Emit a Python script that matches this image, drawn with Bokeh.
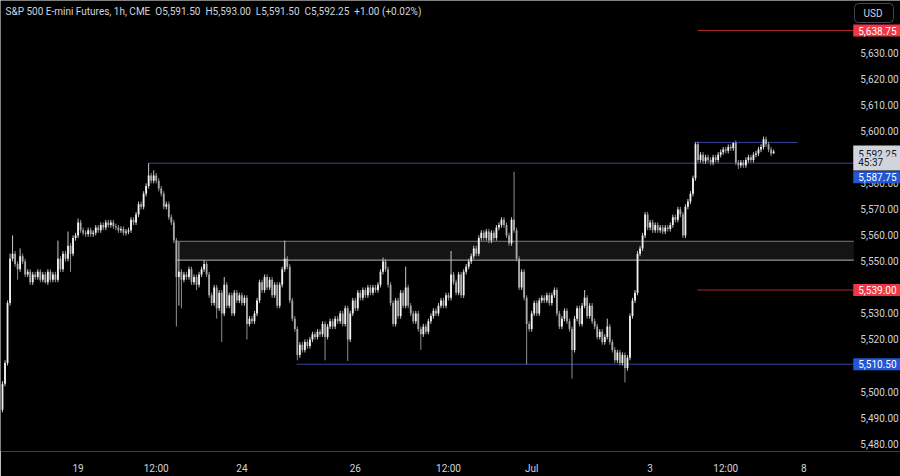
from bokeh.plotting import figure
from bokeh.models import Range1d, FixedTicker, Label, ColumnDataSource
from bokeh.embed import file_html
from bokeh.resources import INLINE
from bokeh.core.properties import value

# ---------------- data ----------------
NB = "\u00a0\u00a0"
title_parts = ["S&P 500 E-mini Futures, 1h, CME", "O5,591.50", "H5,593.00",
               "L5,591.50", "C5,592.25", "+1.00 (+0.02%)"]

first_open = 5493.0
closes = [
    5503, 5511, 5534, 5551, 5553, 5549, 5547, 5552, 5550, 5545,
    5546, 5542, 5545, 5544, 5546, 5543, 5545, 5542, 5546, 5543,
    5545, 5543, 5551, 5547, 5553, 5551, 5556, 5553, 5559, 5560,
    5565, 5562, 5561, 5560.5, 5562, 5560.5, 5561, 5563, 5562, 5564,
    5563, 5565, 5564, 5565, 5563.5, 5563, 5562, 5562.5, 5561, 5561.5,
    5562, 5566, 5565, 5568, 5572, 5571, 5576, 5579, 5583, 5581,
    5583, 5581, 5578, 5576, 5571, 5572, 5567, 5565, 5558, 5544,
    5546, 5543, 5545, 5544, 5547, 5542, 5544, 5541, 5545, 5547,
    5549, 5545, 5537, 5534, 5540, 5532, 5538, 5530, 5541, 5533,
    5537, 5530, 5538, 5535, 5537, 5534, 5536, 5526, 5528, 5527,
    5530, 5535, 5542, 5539, 5544, 5540, 5543, 5537, 5541, 5533,
    5541, 5547, 5551, 5548, 5535, 5528, 5524, 5514, 5518, 5516,
    5519, 5517.5, 5520, 5522, 5521, 5523, 5522, 5526, 5521, 5525,
    5527, 5525, 5528, 5527, 5530, 5526, 5532, 5520, 5530, 5535,
    5532, 5538, 5536, 5539, 5537, 5540, 5538, 5540, 5539, 5541,
    5546, 5550, 5547, 5541, 5534, 5526, 5535, 5529, 5538, 5533,
    5540, 5533, 5530, 5527, 5530, 5524, 5522, 5525, 5523, 5527,
    5529, 5531, 5530, 5533, 5535, 5533, 5537, 5536, 5545, 5542,
    5538, 5545, 5537, 5546, 5548, 5550, 5552, 5555, 5553, 5559,
    5561, 5559, 5561.5, 5558, 5561, 5559, 5563, 5564, 5566, 5564,
    5560, 5557, 5566, 5562, 5551, 5540, 5546, 5536, 5526, 5524,
    5530, 5534, 5530, 5535, 5536, 5535, 5537, 5534, 5537, 5539,
    5530, 5525, 5528, 5531, 5527, 5524, 5516, 5528, 5532, 5526,
    5533, 5536, 5529, 5533, 5527, 5525, 5521, 5523, 5519, 5521,
    5525, 5519, 5516, 5512, 5515, 5511, 5514, 5509, 5513, 5529,
    5535, 5538, 5553, 5555, 5560, 5568, 5563, 5565, 5562, 5564,
    5562, 5563, 5561.5, 5563, 5562.5, 5564, 5567, 5566, 5570, 5568,
    5560, 5571, 5573, 5576, 5582, 5595, 5589, 5591, 5588.5, 5590,
    5589, 5588, 5590, 5589, 5591, 5592, 5593, 5592.5, 5594, 5593.5,
    5595.5, 5588, 5587, 5588, 5587, 5589, 5590, 5589, 5591, 5591.5,
    5593, 5594, 5597, 5595, 5593, 5591.5, 5592.25,
]
# long wicks that stand out in the picture (bar index -> price)
notable_highs = {0: 5504, 3: 5553, 4: 5560, 7: 5555, 22: 5558, 26: 5561.5,
                 30: 5566.5, 58: 5587.75, 60: 5585, 70: 5557.5, 80: 5550.5,
                 88: 5544, 112: 5558, 151: 5551.5, 160: 5548, 178: 5554,
                 203: 5584.5, 219: 5540, 231: 5539, 240: 5528, 255: 5569,
                 275: 5595.75, 290: 5595.75, 302: 5598, 306: 5593}
notable_lows = {0: 5492, 6: 5543, 11: 5541, 17: 5541.5, 27: 5546, 69: 5525,
                70: 5533, 71: 5532, 77: 5539, 85: 5528, 87: 5519, 97: 5520,
                117: 5512, 128: 5512, 137: 5511.75, 166: 5516, 208: 5510.5,
                226: 5505, 247: 5503.5, 292: 5585.5, 306: 5591.5}
typical_wick = 1.0

# horizontal levels: (price, first bar, last bar or None = up to the price scale)
blue_levels = [(5587.75, 58, None), (5510.50, 116.7, None), (5595.75, 274.5, 315.5)]
red_levels = [(5638.75, 275.8, None), (5539.00, 275.8, None)]
zone_bottom, zone_top, zone_start = 5550.50, 5557.75, 68.7

price_ticks = [5480, 5490, 5500, 5520, 5530, 5550, 5560, 5570, 5580,
               5600, 5610, 5620, 5630]
time_tick_bars = [30, 61, 95, 140, 177, 210, 257, 287, 318]
time_tick_labels = ["19", "12:00", "24", "26", "12:00", "Jul", "3", "12:00", "8"]

last_price, countdown_text = 5592.25, "45:37"

# ---------------- derived OHLC ----------------
n = len(closes)
idx = list(range(n))
opens = [first_open] + closes[:-1]
highs = [notable_highs.get(i, max(opens[i], closes[i]) + typical_wick) for i in idx]
lows = [notable_lows.get(i, min(opens[i], closes[i]) - typical_wick) for i in idx]
up = [closes[i] >= opens[i] for i in idx]
src = ColumnDataSource(dict(
    i=idx, h=highs, l=lows,
    top=[max(opens[i], closes[i]) for i in idx],
    bottom=[min(opens[i], closes[i]) for i in idx],
    body=["#f2f2f2" if u else "#aaaaaa" for u in up],
    wick=["#c8c8c8" if u else "#909090" for u in up],
))

FONT = "Roboto"
TXT = "#d1d4dc"

# layout in bar units: the chart pane ends where the price scale begins
x_start, x_end = -0.79, 356.35
y_bottom, y_top = 5476.95, 5650.29
tag_x = 337.6
tick_text_x = 340.4

p = figure(width=900, height=476, output_backend="svg", toolbar_location=None,
           x_range=Range1d(x_start, x_end), y_range=Range1d(y_bottom, y_top),
           y_axis_location=None,
           background_fill_color="#000000", border_fill_color="#000000",
           min_border_left=0, min_border_top=0, min_border_right=0,
           min_border_bottom=21)
p.outline_line_color = None
p.grid.visible = False

ax = p.xaxis[0]
ax.axis_line_color = None
ax.major_tick_line_color = None
ax.minor_tick_line_color = None
ax.major_label_text_color = TXT
ax.major_label_text_font = FONT
ax.major_label_text_font_size = "10px"
ax.ticker = FixedTicker(ticks=time_tick_bars)
ax.major_label_overrides = {b: t for b, t in zip(time_tick_bars, time_tick_labels)}
ax.major_label_standoff = 5

# zone (gray box)
zone_end = tag_x + 0.2
p.quad(left=zone_start, right=zone_end, bottom=zone_bottom, top=zone_top,
       fill_color="#141414", line_color=None)
p.segment(x0=zone_start, x1=zone_end, y0=zone_top, y1=zone_top,
          line_color="#7c7c7c", line_width=1)
p.segment(x0=zone_start, x1=zone_end, y0=zone_bottom, y1=zone_bottom,
          line_color="#b4b4b4", line_width=1)

for price, b0, b1 in blue_levels:
    p.segment(x0=b0, x1=(b1 if b1 is not None else tag_x), y0=price, y1=price,
              line_color="#3b40a0", line_width=1)
for price, b0, b1 in red_levels:
    p.segment(x0=b0, x1=(b1 if b1 is not None else tag_x), y0=price, y1=price,
              line_color="#a82a2e", line_width=1)

# candles
p.segment(x0="i", x1="i", y0="l", y1="h", line_color="wick", line_width=1, source=src)
p.vbar(x="i", width=0.72, top="top", bottom="bottom", fill_color="body",
       line_color=None, source=src)

# price scale labels
p.text(x=[tick_text_x] * len(price_ticks), y=price_ticks,
       text=[f"{t:,.2f}" for t in price_ticks], text_color=TXT,
       text_font=value(FONT), text_font_size="10px",
       text_baseline="middle", text_align="left")

# title
p.add_layout(Label(x=x_start, y=y_top, x_offset=5, y_offset=-11,
                   text=NB.join(title_parts),
                   text_color=TXT, text_font=FONT, text_font_size="10px",
                   text_baseline="middle", text_align="left"))


def tag(price, text, bg, fg, dy=0, pad=None):
    pad = pad or dict(left=5, right=6, top=2, bottom=2)
    p.add_layout(Label(x=tag_x, y=price, y_offset=dy, text=text,
                       text_color=fg, text_font=FONT, text_font_size="10px",
                       text_baseline="middle", text_align="left",
                       background_fill_color=bg, padding=pad))


tag(5638.75, "5,638.75", "#f23645", "#ffffff")
tag(5539.00, "5,539.00", "#f23645", "#ffffff")
tag(5510.50, "5,510.50", "#2257d6", "#ffffff")
tag(last_price, f"{last_price:,.2f}", "#d1d4dc", "#131722",
    pad=dict(left=5, right=6, top=4, bottom=0))
tag(last_price, countdown_text, "#d1d4dc", "#131722", dy=-12,
    pad=dict(left=5, right=19, top=0, bottom=3))
tag(5587.75, "5,587.75", "#2257d6", "#ffffff", dy=-14)

p.add_layout(Label(x=tag_x + 0.5, y=y_top, y_offset=-3, text="USD",
                   text_color=TXT, text_font=FONT, text_font_size="10px",
                   text_baseline="top", text_align="left",
                   border_line_color="#434651", border_radius=4,
                   padding=dict(left=9, right=11, top=4, bottom=4)))

html = file_html(p, INLINE, title="S&P 500 E-mini Futures")
html = html.replace("<body", '<body style="background-color:#000000;"', 1)
open("out.html", "w").write(html)
